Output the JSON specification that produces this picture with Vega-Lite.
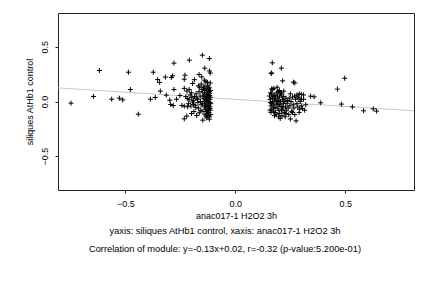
{
  "$schema": "https://vega.github.io/schema/vega-lite/v6.json",
  "width": 356,
  "height": 177,
  "autosize": {"type": "none"},
  "padding": {"left": 58, "top": 13, "right": 18, "bottom": 98},
  "background": "white",
  "config": {
    "font": "Liberation Sans",
    "view": {"stroke": "#222", "strokeWidth": 1},
    "axis": {"grid": false, "domain": false, "tickColor": "#222", "tickSize": 3, "labelFont": "Liberation Sans", "titleFont": "Liberation Sans", "labelFontSize": 9, "titleFontSize": 9, "labelColor": "#000", "titleColor": "#000", "titleFontWeight": "normal"}
  },
  "title": {
    "text": ["yaxis: siliques AtHb1 control, xaxis: anac017-1 H2O2 3h", "Correlation of module: y=-0.13x+0.02, r=-0.32 (p-value:5.200e-01)"],
    "orient": "bottom",
    "anchor": "middle",
    "frame": "group",
    "dx": -11,
    "offset": 7,
    "fontSize": 9.3,
    "fontWeight": "normal",
    "font": "Liberation Sans",
    "color": "#000",
    "lineHeight": 18
  },
  "datasets": {
    "pts": [
      {"x": -0.747, "y": -0.015}, {"x": -0.645, "y": 0.046}, {"x": -0.618, "y": 0.284}, {"x": -0.562, "y": 0.021},
      {"x": -0.527, "y": 0.03}, {"x": -0.512, "y": 0.015}, {"x": -0.486, "y": 0.268}, {"x": -0.477, "y": 0.11},
      {"x": -0.441, "y": -0.116}, {"x": -0.386, "y": 0.021}, {"x": -0.373, "y": 0.268}, {"x": -0.364, "y": 0.037},
      {"x": -0.353, "y": 0.201}, {"x": -0.344, "y": 0.174}, {"x": -0.341, "y": 0.095}, {"x": -0.318, "y": 0.223},
      {"x": -0.314, "y": 0.058}, {"x": -0.298, "y": 0.012}, {"x": -0.294, "y": -0.027}, {"x": -0.291, "y": 0.22},
      {"x": -0.285, "y": 0.235}, {"x": -0.282, "y": -0.037}, {"x": -0.279, "y": 0.351}, {"x": -0.279, "y": 0.11},
      {"x": -0.267, "y": 0.021}, {"x": -0.252, "y": 0.055},
      {"x": -0.209, "y": 0.378}, {"x": -0.15, "y": 0.424}, {"x": -0.139, "y": 0.305}, {"x": -0.118, "y": 0.393},
      {"x": -0.118, "y": 0.28}, {"x": -0.114, "y": 0.26}, {"x": -0.165, "y": 0.247}, {"x": -0.153, "y": 0.225},
      {"x": -0.229, "y": 0.241}, {"x": -0.232, "y": 0.204}, {"x": -0.194, "y": 0.165}, {"x": -0.186, "y": 0.2},
      {"x": -0.168, "y": 0.143}, {"x": -0.141, "y": 0.195}, {"x": -0.127, "y": 0.176}, {"x": -0.145, "y": 0.125},
      {"x": -0.232, "y": 0.12}, {"x": -0.22, "y": 0.095}, {"x": -0.21, "y": 0.11}, {"x": -0.225, "y": 0.045},
      {"x": -0.218, "y": 0.028}, {"x": -0.243, "y": -0.036}, {"x": -0.232, "y": -0.042}, {"x": -0.217, "y": -0.048},
      {"x": -0.202, "y": -0.042}, {"x": -0.19, "y": -0.027}, {"x": -0.18, "y": -0.055},
      {"x": -0.232, "y": -0.159}, {"x": -0.221, "y": -0.134}, {"x": -0.199, "y": -0.11}, {"x": -0.188, "y": -0.092},
      {"x": -0.176, "y": -0.128}, {"x": -0.164, "y": -0.104}, {"x": -0.157, "y": -0.08}, {"x": -0.148, "y": -0.171},
      {"x": -0.133, "y": -0.134}, {"x": -0.118, "y": -0.162}, {"x": -0.129, "y": -0.11}, {"x": -0.14, "y": -0.05},
      {"x": -0.205, "y": 0.06}, {"x": -0.198, "y": 0.035}, {"x": -0.19, "y": 0.01}, {"x": -0.185, "y": 0.045},
      {"x": -0.178, "y": 0.07}, {"x": -0.172, "y": 0.02}, {"x": -0.17, "y": -0.01}, {"x": -0.165, "y": 0.09},
      {"x": -0.16, "y": 0.05}, {"x": -0.158, "y": 0.0}, {"x": -0.155, "y": -0.03}, {"x": -0.152, "y": 0.11},
      {"x": -0.2, "y": 0.08}, {"x": -0.195, "y": -0.005}, {"x": -0.21, "y": 0.015}, {"x": -0.213, "y": -0.02},
      {"x": -0.183, "y": -0.035}, {"x": -0.175, "y": 0.03}, {"x": -0.168, "y": -0.06}, {"x": -0.162, "y": 0.13},
      {"x": -0.155, "y": 0.16}, {"x": -0.148, "y": 0.08}, {"x": -0.146, "y": 0.03}, {"x": -0.149, "y": -0.02},
      {"x": -0.147, "y": -0.09}, {"x": -0.142, "y": 0.14}, {"x": -0.14, "y": 0.1}, {"x": -0.139, "y": 0.06},
      {"x": -0.138, "y": 0.02}, {"x": -0.137, "y": -0.015}, {"x": -0.136, "y": -0.04}, {"x": -0.135, "y": -0.07},
      {"x": -0.134, "y": 0.18}, {"x": -0.133, "y": 0.12}, {"x": -0.132, "y": 0.085}, {"x": -0.131, "y": 0.045},
      {"x": -0.13, "y": 0.005}, {"x": -0.129, "y": -0.025}, {"x": -0.128, "y": -0.06}, {"x": -0.127, "y": -0.085},
      {"x": -0.126, "y": 0.15}, {"x": -0.125, "y": 0.11}, {"x": -0.124, "y": 0.07}, {"x": -0.123, "y": 0.035},
      {"x": -0.122, "y": 0.0}, {"x": -0.121, "y": -0.035}, {"x": -0.12, "y": -0.07}, {"x": -0.12, "y": -0.1},
      {"x": -0.119, "y": 0.13}, {"x": -0.118, "y": 0.09}, {"x": -0.117, "y": 0.055}, {"x": -0.116, "y": 0.02},
      {"x": -0.115, "y": -0.01}, {"x": -0.115, "y": -0.05}, {"x": -0.114, "y": -0.08}, {"x": -0.114, "y": 0.17},
      {"x": -0.113, "y": 0.1}, {"x": -0.113, "y": 0.04}, {"x": -0.112, "y": -0.02}, {"x": -0.112, "y": -0.12},
      {"x": -0.125, "y": -0.13}, {"x": -0.13, "y": -0.15}, {"x": -0.118, "y": -0.14}, {"x": -0.14, "y": 0.0},
      {"x": -0.145, "y": 0.05}, {"x": -0.128, "y": 0.01}, {"x": -0.123, "y": -0.045}, {"x": -0.133, "y": 0.03},
      {"x": -0.117, "y": 0.075}, {"x": -0.127, "y": 0.065}, {"x": -0.121, "y": 0.12}, {"x": -0.131, "y": -0.09},
      {"x": -0.138, "y": -0.12}, {"x": -0.116, "y": -0.065},
      {"x": 0.168, "y": 0.354}, {"x": 0.165, "y": 0.262}, {"x": 0.163, "y": 0.255}, {"x": 0.209, "y": 0.305},
      {"x": 0.215, "y": 0.189}, {"x": 0.264, "y": 0.177}, {"x": 0.27, "y": 0.17}, {"x": 0.165, "y": 0.115},
      {"x": 0.17, "y": 0.11}, {"x": 0.175, "y": 0.12}, {"x": 0.19, "y": 0.13}, {"x": 0.21, "y": 0.08},
      {"x": 0.22, "y": 0.095}, {"x": 0.2, "y": 0.1}, {"x": 0.25, "y": 0.07}, {"x": 0.29, "y": 0.07},
      {"x": 0.3, "y": 0.065}, {"x": 0.31, "y": 0.06}, {"x": 0.285, "y": 0.04}, {"x": 0.342, "y": 0.049},
      {"x": 0.358, "y": 0.043}, {"x": 0.388, "y": -0.012},
      {"x": 0.155, "y": 0.05}, {"x": 0.158, "y": 0.02}, {"x": 0.16, "y": -0.01}, {"x": 0.162, "y": -0.04},
      {"x": 0.164, "y": 0.07}, {"x": 0.166, "y": -0.07}, {"x": 0.168, "y": 0.04}, {"x": 0.17, "y": 0.0},
      {"x": 0.172, "y": -0.03}, {"x": 0.174, "y": -0.09}, {"x": 0.176, "y": 0.06}, {"x": 0.178, "y": 0.015},
      {"x": 0.18, "y": -0.05}, {"x": 0.182, "y": -0.1}, {"x": 0.184, "y": 0.03}, {"x": 0.186, "y": -0.015},
      {"x": 0.188, "y": 0.08}, {"x": 0.19, "y": -0.06}, {"x": 0.192, "y": 0.05}, {"x": 0.194, "y": -0.03},
      {"x": 0.196, "y": 0.01}, {"x": 0.198, "y": -0.08}, {"x": 0.2, "y": 0.04}, {"x": 0.202, "y": -0.11},
      {"x": 0.204, "y": -0.155}, {"x": 0.206, "y": 0.0}, {"x": 0.208, "y": -0.045}, {"x": 0.21, "y": 0.06},
      {"x": 0.212, "y": -0.13}, {"x": 0.214, "y": 0.02}, {"x": 0.216, "y": -0.07}, {"x": 0.218, "y": -0.02},
      {"x": 0.22, "y": 0.045}, {"x": 0.222, "y": -0.1}, {"x": 0.224, "y": 0.0}, {"x": 0.226, "y": -0.14},
      {"x": 0.228, "y": -0.05}, {"x": 0.23, "y": 0.03}, {"x": 0.232, "y": -0.085}, {"x": 0.235, "y": -0.02},
      {"x": 0.238, "y": 0.01}, {"x": 0.24, "y": -0.06}, {"x": 0.243, "y": -0.12}, {"x": 0.245, "y": 0.03},
      {"x": 0.248, "y": -0.04}, {"x": 0.25, "y": -0.16}, {"x": 0.253, "y": 0.0}, {"x": 0.256, "y": -0.09},
      {"x": 0.26, "y": 0.04}, {"x": 0.263, "y": -0.03}, {"x": 0.266, "y": -0.06}, {"x": 0.27, "y": -0.12},
      {"x": 0.274, "y": 0.02}, {"x": 0.276, "y": -0.177}, {"x": 0.28, "y": -0.02}, {"x": 0.284, "y": -0.05},
      {"x": 0.288, "y": 0.03}, {"x": 0.292, "y": -0.07}, {"x": 0.295, "y": 0.0}, {"x": 0.3, "y": -0.04},
      {"x": 0.305, "y": -0.065}, {"x": 0.31, "y": 0.02}, {"x": 0.315, "y": -0.08}, {"x": 0.32, "y": -0.03},
      {"x": 0.16, "y": 0.08}, {"x": 0.165, "y": -0.02}, {"x": 0.17, "y": 0.03}, {"x": 0.175, "y": -0.06},
      {"x": 0.18, "y": 0.05}, {"x": 0.185, "y": -0.12}, {"x": 0.19, "y": 0.0}, {"x": 0.195, "y": 0.09},
      {"x": 0.2, "y": -0.03}, {"x": 0.205, "y": 0.07}, {"x": 0.21, "y": -0.08}, {"x": 0.215, "y": -0.05},
      {"x": 0.22, "y": 0.0}, {"x": 0.158, "y": -0.08}, {"x": 0.162, "y": -0.1}, {"x": 0.178, "y": -0.13},
      {"x": 0.197, "y": -0.14}, {"x": 0.23, "y": -0.11}, {"x": 0.26, "y": -0.1}, {"x": 0.27, "y": 0.05},
      {"x": 0.28, "y": 0.06}, {"x": 0.29, "y": -0.1}, {"x": 0.3, "y": 0.02},
      {"x": 0.464, "y": 0.113}, {"x": 0.497, "y": 0.213}, {"x": 0.482, "y": -0.024}, {"x": 0.532, "y": -0.049},
      {"x": 0.583, "y": -0.085}, {"x": 0.627, "y": -0.067}, {"x": 0.642, "y": -0.088}
    ],
    "fit": [
      {"x": -0.806, "y": 0.1248},
      {"x": 0.812, "y": -0.0856}
    ]
  },
  "layer": [
    {
      "data": {"name": "fit"},
      "mark": {"type": "line", "color": "#c8c8c8", "strokeWidth": 1, "clip": true},
      "encoding": {
        "x": {"field": "x", "type": "quantitative"},
        "y": {"field": "y", "type": "quantitative"}
      }
    },
    {
      "data": {"name": "pts"},
      "mark": {"type": "point", "shape": "M-1,0H1M0,-1V1", "filled": false, "stroke": "#000", "strokeWidth": 1, "size": 25, "opacity": 1, "clip": true},
      "encoding": {
        "x": {
          "field": "x", "type": "quantitative",
          "scale": {"domain": [-0.806, 0.812], "nice": false, "zero": false},
          "axis": {"values": [-0.5, 0, 0.5], "format": ".1f", "title": "anac017-1 H2O2 3h", "labelPadding": 6, "titlePadding": 3}
        },
        "y": {
          "field": "y", "type": "quantitative",
          "scale": {"domain": [-0.81, 0.81], "nice": false, "zero": false},
          "axis": {"values": [-0.5, 0, 0.5], "format": ".1f", "title": "siliques AtHb1 control", "labelAngle": -90, "labelAlign": "center", "labelBaseline": "bottom", "labelPadding": 6, "titlePadding": 6}
        }
      }
    }
  ]
}
